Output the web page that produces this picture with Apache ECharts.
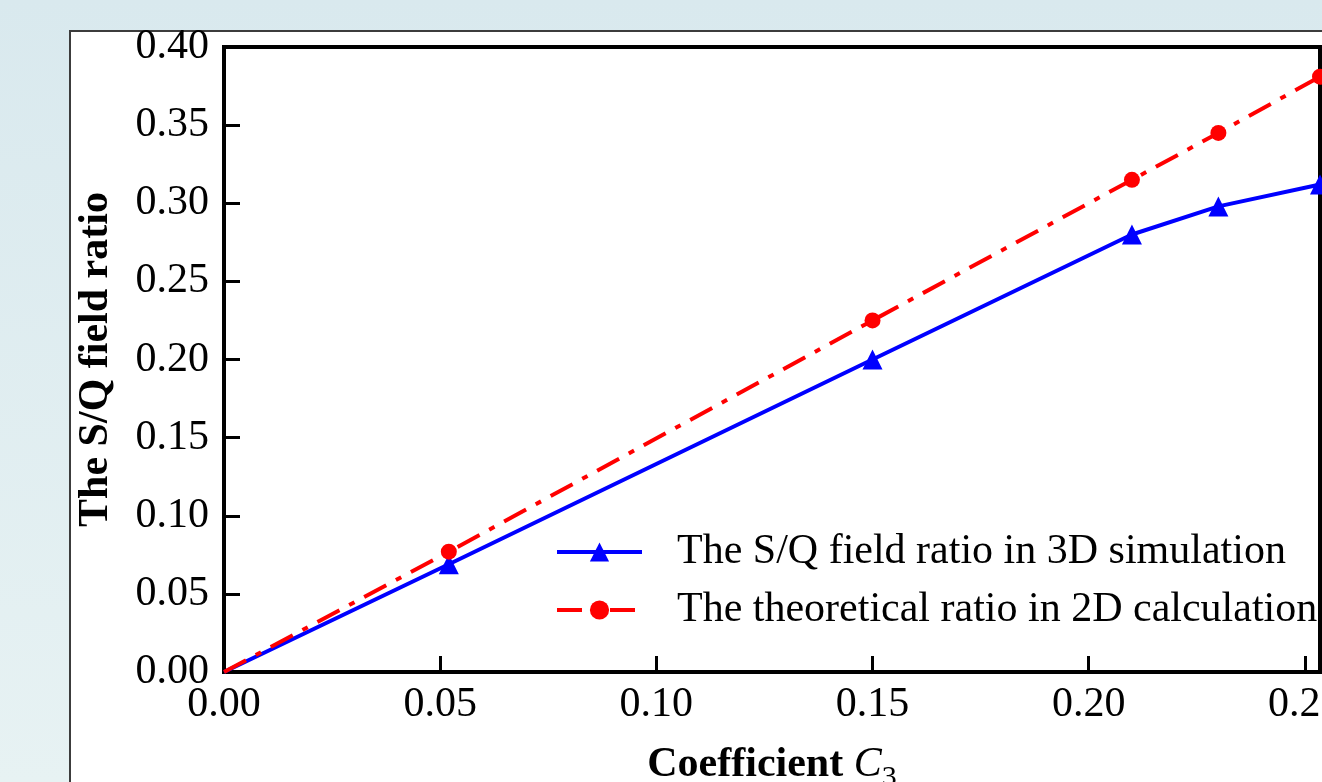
<!DOCTYPE html>
<html><head><meta charset="utf-8">
<script src="https://cdn.jsdelivr.net/npm/echarts@6/dist/echarts.min.js"></script>
<style>html,body{margin:0;padding:0;overflow:hidden;}#c{width:1322px;height:782px;}</style>
</head><body><div id="c"></div>
<script>
const coefficientC3 = [0, 0.052, 0.15, 0.21, 0.23, 0.2535];
const ratio3D = [0, 0.069, 0.200, 0.280, 0.298, 0.312];
const ratio2D = [0, 0.077, 0.225, 0.315, 0.345, 0.381];
const seriesNames = ['The S/Q field ratio in 3D simulation', 'The theoretical ratio in 2D calculation'];
const xAxisTitle = '{b|Coefficient }{i|C}{s|3}';
const yAxisTitle = 'The S/Q field ratio';

const FONT = '"Liberation Serif", "Times New Roman", serif';
const chart = echarts.init(document.getElementById('c'), null, {renderer: 'canvas'});
// origin point is drawn without a marker, as in the reference
const pairs = (xs, ys) => xs.map((x, i) => (i === 0 ? {value: [x, ys[i]], symbol: 'none'} : [x, ys[i]]));

chart.setOption({
  animation: false,
  backgroundColor: {type: 'linear', x: 0, y: 0, x2: 0, y2: 1,
    colorStops: [{offset: 0, color: '#d9e9ee'}, {offset: 1, color: '#e7f2f3'}]},
  graphic: [{
    type: 'rect', z: -100, silent: true,
    shape: {x: 70, y: 31, width: 1300, height: 800},
    style: {fill: '#ffffff', stroke: '#3c3c3c', lineWidth: 2}
  }],
  grid: {
    left: 224, right: 2, top: 47, bottom: 110,
    show: true, borderColor: '#000', borderWidth: 4, backgroundColor: 'transparent',
    containLabel: false, outerBoundsMode: 'none'
  },
  legend: {
    orient: 'vertical', left: 555, top: 529, padding: 0,
    itemWidth: 85, itemHeight: 24, itemGap: 12,
    lineStyle: {width: 4},
    textStyle: {fontFamily: FONT, fontSize: 42, color: '#000', lineHeight: 46, padding: [0, 0, 0, 30]},
    data: seriesNames
  },
  xAxis: {
    type: 'value', min: 0, max: 0.2535, interval: 0.05,
    axisLine: {show: true, onZero: false, lineStyle: {color: '#000', width: 4}},
    axisTick: {show: true, inside: true, length: 16, lineStyle: {color: '#000', width: 3}},
    axisLabel: {fontFamily: FONT, fontSize: 42, color: '#000', margin: 12, showMaxLabel: false,
      formatter: v => v.toFixed(2)},
    splitLine: {show: false},
    name: xAxisTitle, nameLocation: 'middle', nameGap: 65,
    nameTextStyle: {
      rich: {
        b: {fontFamily: FONT, fontSize: 42, fontWeight: 'bold', color: '#000', lineHeight: 56},
        i: {fontFamily: FONT, fontSize: 42, fontStyle: 'italic', color: '#000', lineHeight: 56},
        s: {fontFamily: FONT, fontSize: 30, color: '#000', lineHeight: 30, verticalAlign: 'bottom'}
      }
    }
  },
  yAxis: {
    type: 'value', min: 0, max: 0.4, interval: 0.05,
    axisLine: {show: true, onZero: false, lineStyle: {color: '#000', width: 4}},
    axisTick: {show: true, inside: true, length: 16, lineStyle: {color: '#000', width: 3}},
    axisLabel: {fontFamily: FONT, fontSize: 42, color: '#000', margin: 15,
      formatter: v => v.toFixed(2)},
    splitLine: {show: false},
    name: yAxisTitle, nameLocation: 'middle', nameGap: 107,
    nameTextStyle: {fontFamily: FONT, fontSize: 42, fontWeight: 'bold', color: '#000'}
  },
  series: [
    {
      name: seriesNames[0], type: 'line', data: pairs(coefficientC3, ratio3D),
      symbol: 'triangle', symbolSize: 20, showSymbol: true,
      lineStyle: {color: '#0000ff', width: 4},
      itemStyle: {color: '#0000ff'}
    },
    {
      name: seriesNames[1], type: 'line', data: pairs(coefficientC3, ratio2D),
      symbol: 'circle', symbolSize: 16, showSymbol: true,
      lineStyle: {color: '#ff0000', width: 4, type: [25, 11, 6, 11]},
      itemStyle: {color: '#ff0000'}
    }
  ]
});
</script></body></html>
